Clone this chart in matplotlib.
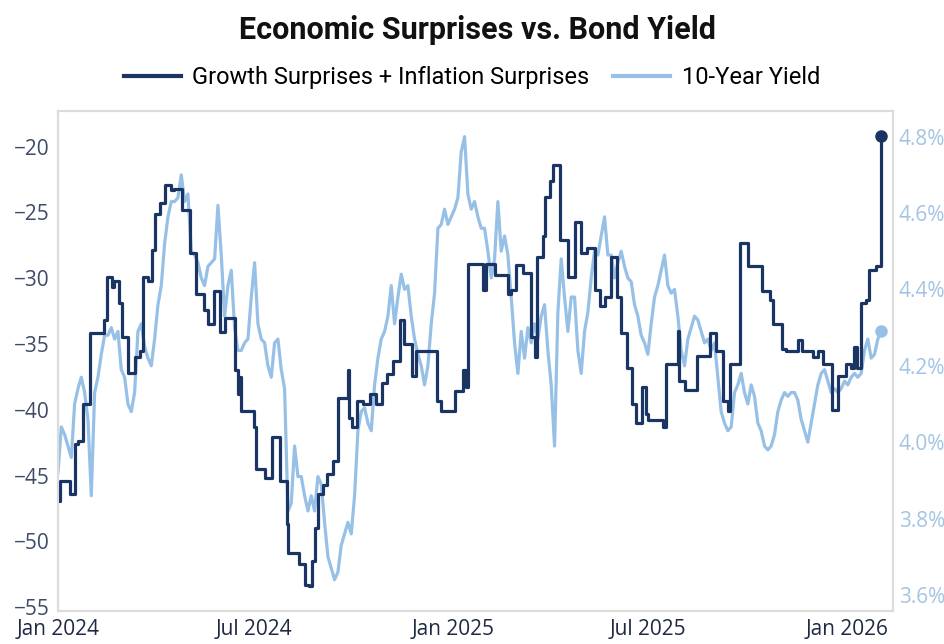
import matplotlib
matplotlib.use('Agg')
import matplotlib.pyplot as plt
import matplotlib.dates as mdates
import pandas as pd

# growth + inflation surprise index (step series, value holds until next date)
surprise_dates = [
    '2024-01-01', '2024-01-03', '2024-01-12', '2024-01-17', '2024-01-20', '2024-01-24',
    '2024-01-31', '2024-02-13', '2024-02-15', '2024-02-20', '2024-02-22', '2024-02-27',
    '2024-02-29', '2024-03-06', '2024-03-12', '2024-03-17', '2024-03-20', '2024-03-24',
    '2024-03-28', '2024-03-31', '2024-04-05', '2024-04-09', '2024-04-15', '2024-04-18',
    '2024-04-25', '2024-05-02', '2024-05-08', '2024-05-15', '2024-05-19', '2024-05-25',
    '2024-05-30', '2024-06-04', '2024-06-13', '2024-06-16', '2024-06-18', '2024-06-19',
    '2024-07-01', '2024-07-03', '2024-07-11', '2024-07-17', '2024-07-25', '2024-07-31',
    '2024-08-01', '2024-08-11', '2024-08-17', '2024-08-21', '2024-08-23', '2024-08-26',
    '2024-08-29', '2024-09-03', '2024-09-06', '2024-09-12', '2024-09-17', '2024-09-26',
    '2024-09-27', '2024-09-30', '2024-10-04', '2024-10-10', '2024-10-16', '2024-10-22',
    '2024-10-27', '2024-11-01', '2024-11-07', '2024-11-13', '2024-11-17', '2024-11-24',
    '2024-11-28', '2024-12-17', '2024-12-21', '2025-01-03', '2025-01-10', '2025-01-13',
    '2025-01-15', '2025-01-29', '2025-02-01', '2025-02-09', '2025-02-21', '2025-02-24',
    '2025-03-01', '2025-03-07', '2025-03-14', '2025-03-18', '2025-03-20', '2025-03-26',
    '2025-03-27', '2025-04-01', '2025-04-04', '2025-04-10', '2025-04-18', '2025-04-24',
    '2025-04-30', '2025-05-05', '2025-05-13', '2025-05-17', '2025-05-22', '2025-05-28',
    '2025-06-02', '2025-06-06', '2025-06-11', '2025-06-16', '2025-06-20', '2025-06-25',
    '2025-06-29', '2025-07-01', '2025-07-15', '2025-07-18', '2025-07-29', '2025-07-30',
    '2025-08-04', '2025-08-15', '2025-08-27', '2025-09-02', '2025-09-08', '2025-09-13',
    '2025-09-15', '2025-09-24', '2025-10-02', '2025-10-15', '2025-10-22', '2025-10-25',
    '2025-11-02', '2025-11-06', '2025-11-17', '2025-11-21', '2025-12-01', '2025-12-05',
    '2025-12-10', '2025-12-18', '2025-12-24', '2025-12-31', '2026-01-05', '2026-01-08',
    '2026-01-11', '2026-01-14', '2026-01-19', '2026-01-22', '2026-01-28', '2026-02-02',
]
surprise_vals = [
    -46.9, -45.4, -46.4, -42.6, -42.4, -39.6,
    -34.2, -33.2, -29.9, -30.7, -30.2, -31.9,
    -34.5, -37.2, -36.0, -35.5, -29.9, -30.2,
    -27.9, -25.1, -24.3, -22.9, -23.3, -23.2,
    -24.8, -28.1, -31.2, -32.4, -33.5, -31.0,
    -34.1, -33.0, -37.0, -38.8, -37.5, -40.1,
    -41.3, -44.5, -45.2, -42.1, -45.4, -48.7,
    -50.9, -51.7, -53.3, -53.4, -51.5, -49.0,
    -46.4, -45.7, -44.9, -43.9, -39.1, -37.0,
    -40.6, -41.3, -39.3, -39.6, -38.8, -39.6,
    -38.0, -37.3, -36.3, -33.2, -35.0, -37.4,
    -35.5, -39.3, -40.1, -38.6, -37.0, -38.3,
    -28.9, -30.9, -28.9, -29.8, -31.2, -30.9,
    -29.0, -29.6, -34.5, -36.0, -28.4, -26.8,
    -23.8, -22.6, -21.4, -27.1, -29.9, -25.7,
    -28.1, -27.7, -30.9, -32.1, -31.4, -28.4,
    -31.4, -34.2, -36.8, -39.6, -41.0, -38.3,
    -40.3, -40.8, -41.3, -36.5, -34.0, -37.8,
    -38.5, -35.9, -34.2, -35.5, -39.3, -40.1,
    -36.5, -27.3, -29.1, -31.0, -31.7, -33.5,
    -35.4, -35.5, -34.7, -35.5, -36.0, -35.5,
    -36.5, -40.0, -37.4, -36.5, -36.8, -35.2,
    -36.8, -31.9, -31.7, -29.4, -29.1, -19.2,
]

# 10-year yield (%), evenly spaced readings from 2024-01-01 to 2026-02-02
yield_start, yield_end = '2024-01-01', '2026-02-02'
yield_h1_2024 = [
    3.92, 4.04, 4.02, 3.99, 3.96, 4.10, 4.14, 4.17, 4.13, 4.06, 3.86, 4.13, 4.17,
    4.23, 4.28, 4.28, 4.30, 4.27, 4.29, 4.19, 4.17, 4.10, 4.08, 4.13, 4.29, 4.31,
    4.25, 4.22, 4.20, 4.27, 4.36, 4.41, 4.52, 4.59, 4.63, 4.63, 4.64, 4.70, 4.63,
    4.65, 4.50, 4.49, 4.47, 4.43, 4.41, 4.46, 4.47, 4.48, 4.62, 4.49, 4.33, 4.41,
    4.45, 4.30, 4.24, 4.24, 4.26, 4.27, 4.38, 4.47, 4.31, 4.27,
]
yield_h2_2024 = [
    4.26, 4.20, 4.17, 4.26, 4.27, 4.19, 4.14, 3.82, 3.84, 3.99, 3.91, 3.91, 3.86,
    3.82, 3.86, 3.82, 3.91, 3.89, 3.79, 3.70, 3.67, 3.64, 3.66, 3.73, 3.76, 3.79,
    3.76, 3.86, 4.03, 4.08, 4.09, 4.05, 4.03, 4.15, 4.22, 4.27, 4.29, 4.33, 4.41,
    4.31, 4.38, 4.44, 4.40, 4.41, 4.33, 4.27, 4.23, 4.20, 4.15, 4.20, 4.31, 4.39,
    4.56, 4.57, 4.61, 4.57, 4.59, 4.61, 4.64, 4.76, 4.80, 4.65, 4.61,
]
yield_h1_2025 = [
    4.63, 4.59, 4.56, 4.56, 4.50, 4.43, 4.48, 4.63, 4.50, 4.54, 4.49, 4.38, 4.26,
    4.18, 4.29, 4.22, 4.30, 4.26, 4.31, 4.27, 4.33, 4.36, 4.24, 4.15, 3.99, 4.34,
    4.48, 4.38, 4.29, 4.38, 4.38, 4.24, 4.18, 4.29, 4.34, 4.43, 4.50, 4.49, 4.54,
    4.59, 4.49, 4.49, 4.43, 4.47, 4.50, 4.46, 4.43, 4.42, 4.36, 4.33, 4.28, 4.26,
    4.23, 4.31, 4.38, 4.41, 4.45, 4.49, 4.41, 4.39, 4.40, 4.33, 4.24,
]
yield_h2_2025 = [
    4.20, 4.27, 4.30, 4.33, 4.32, 4.29, 4.26, 4.27, 4.24, 4.26, 4.17, 4.08, 4.05,
    4.03, 4.04, 4.13, 4.15, 4.18, 4.13, 4.10, 4.15, 4.12, 4.05, 4.03, 3.99, 3.98,
    3.99, 4.02, 4.08, 4.11, 4.13, 4.12, 4.13, 4.13, 4.11, 4.06, 4.03, 4.00, 4.05,
    4.10, 4.15, 4.18, 4.19, 4.16, 4.13, 4.14, 4.13, 4.14, 4.16, 4.15, 4.17, 4.18,
    4.17, 4.18, 4.24, 4.27, 4.22, 4.23, 4.27, 4.29,
]

left_ticks = [-55, -50, -45, -40, -35, -30, -25, -20]
right_ticks = [3.6, 3.8, 4.0, 4.2, 4.4, 4.6, 4.8]
x_ticks = ['2024-01-01', '2024-07-01', '2025-01-01', '2025-07-01', '2026-01-01']

dark = '#1a3563'
light = '#97c0e7'
head_font = ['Roboto', 'DejaVu Sans']
plt.rcParams['font.family'] = ['Open Sans', 'DejaVu Sans']

s_dates = pd.to_datetime(surprise_dates)
yields = yield_h1_2024 + yield_h2_2024 + yield_h1_2025 + yield_h2_2025
y_dates = pd.date_range(yield_start, yield_end, periods=len(yields))

fig = plt.figure(figsize=(9.44, 6.44), dpi=100)
ax = fig.add_axes([0.0614, 0.0512, 0.8846, 0.7764])
ax2 = ax.twinx()

ax2.plot(y_dates, yields, color=light, lw=2.3, solid_joinstyle='round')
ax2.plot(y_dates[-1:], yields[-1:], 'o', color=light, ms=8)
ax.plot(s_dates, surprise_vals, color=dark, lw=2.3, drawstyle='steps-post')
ax.plot(s_dates[-1:], surprise_vals[-1:], 'o', color=dark, ms=8)

ax.set_zorder(ax2.get_zorder() + 1)
ax.patch.set_visible(False)

ax.set_xlim(pd.Timestamp('2024-01-01'), pd.Timestamp('2026-02-13'))
ax.set_ylim(-55.3, -17.3)
ax2.set_ylim(3.558, 4.867)

ax.set_yticks(left_ticks)
ax.set_yticklabels([str(t).replace('-', '\u2212') for t in left_ticks])
ax2.set_yticks(right_ticks)
ax2.set_yticklabels(['%.1f%%' % t for t in right_ticks])
ax.set_xticks(pd.to_datetime(x_ticks))
ax.xaxis.set_major_formatter(mdates.DateFormatter('%b %Y'))

ax.tick_params(axis='y', length=0, pad=6, labelsize=15, labelcolor='#3d4b68')
ax.tick_params(axis='x', length=0, pad=6, labelsize=15, labelcolor='#1e2a44')
ax2.tick_params(axis='y', length=0, pad=4, labelsize=15, labelcolor='#a3c4e3')
for a in (ax, ax2):
    for sp in a.spines.values():
        sp.set_color('#dcdcdc')
        sp.set_linewidth(1.5)

fig.text(0.506, 0.953, 'Economic Surprises vs. Bond Yield', ha='center', va='center',
         fontsize=22, fontweight='bold', family=head_font, color='#111111')
handles = [plt.Line2D([], [], color=dark, lw=3), plt.Line2D([], [], color=light, lw=3)]
fig.legend(handles, ['Growth Surprises + Inflation Surprises', '10-Year Yield'],
           loc='center', bbox_to_anchor=(0.5, 0.88), ncol=2, frameon=False,
           handlelength=2.4, columnspacing=1.0, handletextpad=0.5,
           prop={'family': head_font, 'size': 17})

fig.savefig('out.png', dpi=100)
